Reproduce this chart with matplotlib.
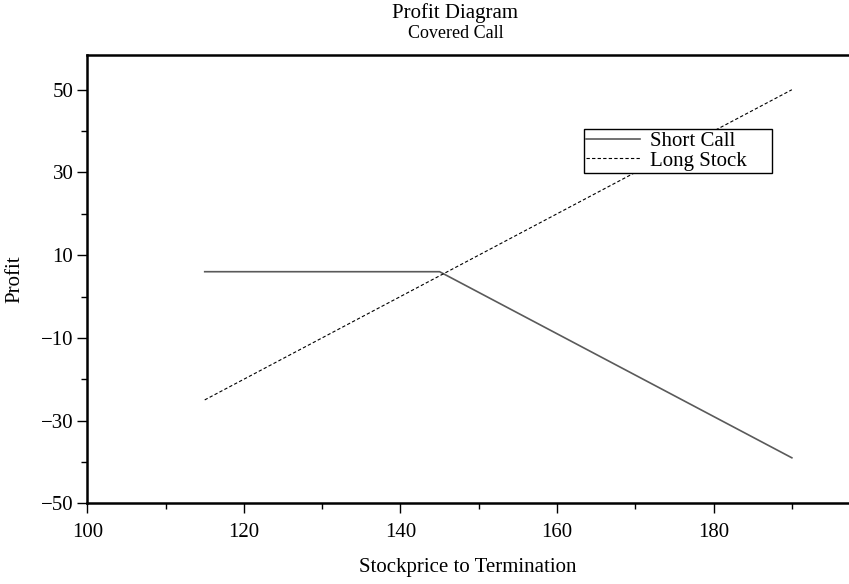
import matplotlib
matplotlib.use("Agg")
import matplotlib.pyplot as plt
from matplotlib.ticker import MultipleLocator

# stock price at termination and profit of each leg
stock_price = [115, 145, 190]
short_call = [6, 6, -39]
long_stock = [-25, 5, 50]

y_major = [-50, -30, -10, 10, 30, 50]
y_minor = [-40, -20, 0, 20, 40]

plt.rcParams['font.family'] = ['Liberation Serif', 'DejaVu Serif']

fig = plt.figure(figsize=(8.49, 5.84), dpi=100)
left, bottom, top = 87.3, 503.3, 55
ax = fig.add_axes([left/849, 1 - bottom/584, 1 - left/849, (bottom - top)/584])

ax.plot(stock_price, short_call, color='#5a5a5a', linewidth=1.2, label='Short Call')
ax.plot(stock_price, long_stock, color='black', linewidth=0.8, linestyle=(0, (3, 2)),
        label='Long Stock')

ax.set_xlim(100, 197.3)
ax.set_ylim(-50, 58.4)
ax.xaxis.set_major_locator(MultipleLocator(20))
ax.xaxis.set_minor_locator(MultipleLocator(10))
ax.set_yticks(y_major)
ax.set_yticklabels([str(v).replace('-', '\u2212') for v in y_major])
ax.set_yticks(y_minor, minor=True)

ax.tick_params(which='major', direction='out', length=7, width=1, labelsize=15, pad=3)
ax.tick_params(which='minor', direction='out', length=4, width=1)
ax.tick_params(axis='x', pad=7)

for side in ['left', 'top', 'bottom']:
    ax.spines[side].set_linewidth(1.8)
ax.spines['right'].set_visible(False)

ax.set_xlabel('Stockprice to Termination', fontsize=15, labelpad=12)
ax.set_ylabel('Profit', fontsize=15, labelpad=12)

fig.text(455/849, 1 - 13/584, 'Profit Diagram', ha='center', va='center', fontsize=15)
fig.text(456/849, 1 - 33/584, 'Covered Call', ha='center', va='center', fontsize=13)

# legend box: upper-left corner at (0.652, 0.835) in axes units
leg = ax.legend(loc='upper left', bbox_to_anchor=(0.652, 0.735, 0.247, 0.1), mode='expand',
                borderaxespad=0, fancybox=False, edgecolor='black', framealpha=1,
                fontsize=15, handlelength=2.55, labelspacing=0.0, borderpad=0.12,
                handletextpad=0.5)
leg.get_frame().set_linewidth(1.0)

fig.savefig('out.png', dpi=100)
